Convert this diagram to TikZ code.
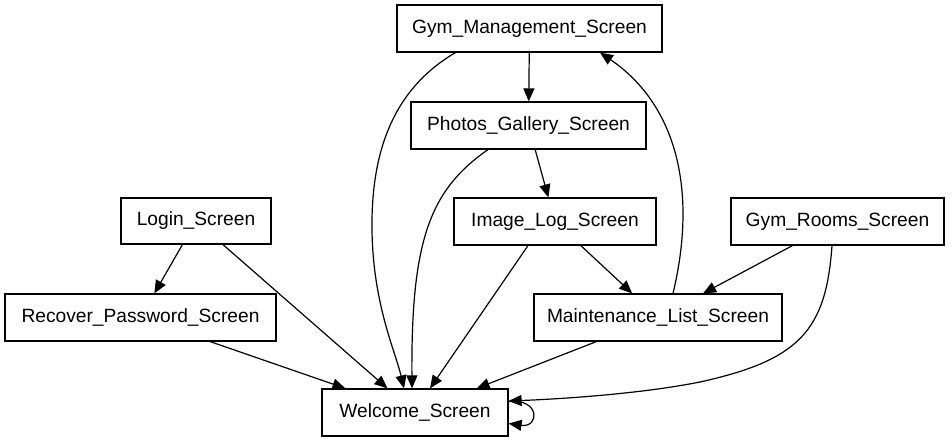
\documentclass[tikz,border=0pt]{standalone}
\usepackage{fontspec}
\setmainfont{Liberation Sans}
\usetikzlibrary{arrows.meta,calc}
\begin{document}
\begin{tikzpicture}[x=1pt,y=-1pt,
  box/.style={draw=black,line width=1.2pt,fill=white,inner sep=0pt,font=\fontsize{19.2}{23}\selectfont},
  edge/.style={draw=black,line width=1.2pt,-{Triangle[length=13pt,width=11pt]}}]
\useasboundingbox (0,0) rectangle (952,443);
\node[box,minimum width=265pt,minimum height=47pt] (gm) at (529.5,28.5) {Gym\_Management\_Screen};
\node[box,minimum width=235pt,minimum height=47pt] (pg) at (528.5,125.5) {Photos\_Gallery\_Screen};
\node[box,minimum width=150pt,minimum height=46pt] (ls) at (196,221) {Login\_Screen};
\node[box,minimum width=202pt,minimum height=47pt] (il) at (555,221.5) {Image\_Log\_Screen};
\node[box,minimum width=213pt,minimum height=47pt] (gr) at (837.5,221.5) {Gym\_Rooms\_Screen};
\node[box,minimum width=271pt,minimum height=47pt] (rp) at (140.5,317.5) {Recover\_Password\_Screen};
\node[box,minimum width=248pt,minimum height=47pt] (ml) at (658,317.5) {Maintenance\_List\_Screen};
\node[box,minimum width=186pt,minimum height=47pt] (ws) at (415,412.5) {Welcome\_Screen};

\draw[edge] (gm) -- (pg);
\draw[edge] ([xshift=-74]gm.south) .. controls (400,85) and (373,140) .. (372,220) .. controls (371,300) and (395,350) .. ([xshift=-11]ws.north);
\draw[edge] ([xshift=-40.5]pg.south) .. controls (430,190) and (411,240) .. ([xshift=-3]ws.north);
\draw[edge] (pg) -- (il);
\draw[edge] (ls) -- (rp);
\draw[edge] (ls) -- (ws);
\draw[edge] (il) -- (ml);
\draw[edge] ([xshift=-27]il.south) -- ([xshift=15]ws.north);
\draw[edge] (gr) -- (ml);
\draw[edge] ([xshift=-5.5]gr.south) .. controls (826,330) and (800,360) .. (700,382) .. controls (640,394) and (560,399) .. ([yshift=11.5]ws.east);
\draw[edge] ([xshift=15]ml.north) .. controls (700,180) and (670,100) .. ([xshift=70.5]gm.south);
\draw[edge] (ml) -- (ws);
\draw[edge] (rp) -- (ws);
\draw[edge] ([yshift=11]ws.east) .. controls (540,398) and (540,428) .. ([yshift=-11]ws.east);
\end{tikzpicture}
\end{document}
